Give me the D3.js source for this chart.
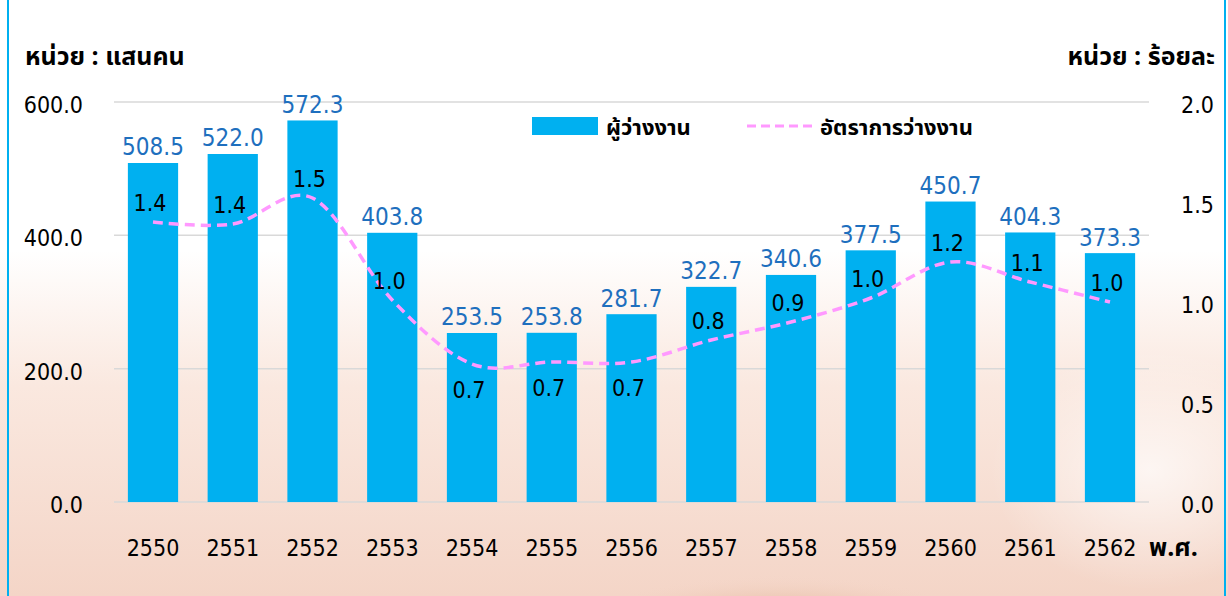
<!DOCTYPE html>
<html>
<head>
<meta charset="utf-8">
<script src="https://cdn.jsdelivr.net/npm/d3@7"></script>
<style>
  body { margin: 0; background: #fff; }
  svg { display: block; }
  .num { font-family: "DejaVu Sans Condensed", "DejaVu Sans", sans-serif; font-stretch: condensed; }
  .thai { font-family: Tahoma, "Noto Sans Thai", "Noto Sans", sans-serif; font-weight: bold; }
</style>
</head>
<body>
<script>
(function(){

    //chart data
    var years = ["2550", "2551", "2552", "2553", "2554", "2555", "2556",
                 "2557", "2558", "2559", "2560", "2561", "2562"];
    var unemployed = [508.5, 522.0, 572.3, 403.8, 253.5, 253.8, 281.7,
                      322.7, 340.6, 377.5, 450.7, 404.3, 373.3]; //แสนคน
    var rate = [1.40, 1.39, 1.52, 1.01, 0.69, 0.70, 0.70,
                0.81, 0.90, 1.02, 1.20, 1.10, 1.00]; //ร้อยละ
    var rateLabels = ["1.4", "1.4", "1.5", "1.0", "0.7", "0.7", "0.7",
                      "0.8", "0.9", "1.0", "1.2", "1.1", "1.0"];
    //label side for the rate labels (Excel placed some below the line)
    var rateLabelSide = ["up", "up", "up", "up", "down", "down", "down",
                         "up", "up", "up", "up", "up", "up"];
    var leftTicks = [0, 200, 400, 600];
    var rightTicks = [0, 0.5, 1.0, 1.5, 2.0];

    var width = 1228, height = 596;

    var svg = d3.select("body").append("svg")
        .attr("width", width)
        .attr("height", height);

    //background: white fading into a soft peach
    var defs = svg.append("defs");
    var bg = defs.append("linearGradient")
        .attr("id", "bg").attr("x1", 0).attr("y1", 0).attr("x2", 0).attr("y2", 1);
    bg.append("stop").attr("offset", "0%").attr("stop-color", "#ffffff");
    bg.append("stop").attr("offset", "42%").attr("stop-color", "#ffffff");
    bg.append("stop").attr("offset", "65%").attr("stop-color", "#fae8df");
    bg.append("stop").attr("offset", "100%").attr("stop-color", "#f4d5c7");

    var glow = defs.append("radialGradient").attr("id", "glow");
    glow.append("stop").attr("offset", "0%").attr("stop-color", "#d39a70").attr("stop-opacity", 0.85);
    glow.append("stop").attr("offset", "100%").attr("stop-color", "#f4d6c9").attr("stop-opacity", 0);

    var lite = defs.append("radialGradient").attr("id", "lite");
    lite.append("stop").attr("offset", "0%").attr("stop-color", "#ffffff").attr("stop-opacity", 0.7);
    lite.append("stop").attr("offset", "100%").attr("stop-color", "#ffffff").attr("stop-opacity", 0);

    svg.append("rect").attr("width", width).attr("height", height).attr("fill", "url(#bg)");
    svg.append("ellipse").attr("cx", 780).attr("cy", 625).attr("rx", 200).attr("ry", 50)
        .attr("fill", "url(#glow)");
    svg.append("ellipse").attr("cx", 1150).attr("cy", 470).attr("rx", 160).attr("ry", 120)
        .attr("fill", "url(#lite)");

    //frame side lines
    svg.append("line").attr("x1", 8).attr("x2", 8).attr("y1", 0).attr("y2", height)
        .attr("stroke", "#00b0f0").attr("stroke-width", 2);
    svg.append("line").attr("x1", 1225).attr("x2", 1225).attr("y1", 0).attr("y2", height)
        .attr("stroke", "#00b0f0").attr("stroke-width", 2);

    //scales
    var x = d3.scaleBand()
        .domain(years)
        .range([114, 1149])
        .paddingInner(0.37)
        .paddingOuter(0.174);

    var yLeft = d3.scaleLinear().domain([0, 600]).range([502, 102]);
    var yRight = d3.scaleLinear().domain([0, 2]).range([502, 102]);

    //gridlines
    svg.append("g").selectAll("line")
        .data(leftTicks)
        .enter().append("line")
        .attr("x1", 114).attr("x2", 1149)
        .attr("y1", function(d){ return yLeft(d); })
        .attr("y2", function(d){ return yLeft(d); })
        .attr("stroke", "#d9d9d9")
        .attr("stroke-width", 1.5);

    //left axis
    var leftAxis = svg.append("g")
        .attr("transform", "translate(83,0)")
        .call(d3.axisLeft(yLeft).tickValues(leftTicks).tickFormat(d3.format(".1f")).tickSize(0).tickPadding(0));
    leftAxis.select(".domain").remove();
    leftAxis.selectAll("text").attr("class", "num").attr("font-size", 23).attr("fill", "#000")
        .attr("dy", "0.45em");

    //right axis
    var rightAxis = svg.append("g")
        .attr("transform", "translate(1214,0)")
        .call(d3.axisLeft(yRight).tickValues(rightTicks).tickFormat(d3.format(".1f")).tickSize(0).tickPadding(0));
    rightAxis.select(".domain").remove();
    rightAxis.selectAll("text").attr("class", "num").attr("font-size", 23).attr("fill", "#000")
        .attr("dy", "0.45em");

    //year axis
    var bottomAxis = svg.append("g")
        .attr("transform", "translate(0,502)")
        .call(d3.axisBottom(x).tickSize(0).tickPadding(0));
    bottomAxis.select(".domain").remove();
    bottomAxis.selectAll("text").attr("class", "num").attr("font-size", 23).attr("fill", "#000")
        .attr("y", 46).attr("dy", "0.35em");

    //bars
    svg.append("g").selectAll("rect")
        .data(unemployed)
        .enter().append("rect")
        .attr("x", function(d, i){ return x(years[i]); })
        .attr("width", x.bandwidth())
        .attr("y", function(d){ return yLeft(d); })
        .attr("height", function(d){ return yLeft(0) - yLeft(d); })
        .attr("fill", "#00b0f0");

    //bar value labels
    svg.append("g").selectAll("text")
        .data(unemployed)
        .enter().append("text")
        .attr("class", "num")
        .attr("x", function(d, i){ return x(years[i]) + x.bandwidth() / 2; })
        .attr("y", function(d){ return yLeft(d) - 16; })
        .attr("dy", "0.35em")
        .attr("text-anchor", "middle")
        .attr("font-size", 24)
        .attr("fill", "#1e6fbe")
        .text(function(d){ return d3.format(".1f")(d); });

    //rate line
    var line = d3.line()
        .x(function(d, i){ return x(years[i]) + x.bandwidth() / 2; })
        .y(function(d){ return yRight(d); })
        .curve(d3.curveCatmullRom.alpha(0));

    svg.append("path")
        .datum(rate)
        .attr("d", line)
        .attr("fill", "none")
        .attr("stroke", "#ff99ff")
        .attr("stroke-width", 3.5)
        .attr("stroke-dasharray", "10,6");

    //rate labels
    svg.append("g").selectAll("text")
        .data(rate)
        .enter().append("text")
        .attr("class", "num")
        .attr("x", function(d, i){ return x(years[i]) + x.bandwidth() / 2 - 3; })
        .attr("y", function(d, i){
            return yRight(d) + (rateLabelSide[i] == "up" ? -19 : 26);
        })
        .attr("dy", "0.35em")
        .attr("text-anchor", "middle")
        .attr("font-size", 23)
        .attr("fill", "#000")
        .text(function(d, i){ return rateLabels[i]; });

    //unit titles
    svg.append("text").attr("class", "thai")
        .attr("x", 25).attr("y", 56).attr("dy", "0.35em")
        .attr("font-size", 25)
        .text("หน่วย : แสนคน");
    svg.append("text").attr("class", "thai")
        .attr("x", 1215).attr("y", 56).attr("dy", "0.35em")
        .attr("text-anchor", "end")
        .attr("font-size", 25)
        .text("หน่วย : ร้อยละ");
    svg.append("text").attr("class", "thai")
        .attr("x", 1149).attr("y", 547).attr("dy", "0.35em")
        .attr("font-size", 25)
        .text("พ.ศ.");

    //legend
    var legend = svg.append("g");
    legend.append("rect")
        .attr("x", 532).attr("y", 117).attr("width", 66).attr("height", 18)
        .attr("fill", "#00b0f0");
    legend.append("text").attr("class", "thai")
        .attr("x", 606).attr("y", 127).attr("dy", "0.35em")
        .attr("font-size", 22)
        .text("ผู้ว่างงาน");
    legend.append("line")
        .attr("x1", 747).attr("x2", 812).attr("y1", 126).attr("y2", 126)
        .attr("stroke", "#ff99ff")
        .attr("stroke-width", 3)
        .attr("stroke-dasharray", "9,5");
    legend.append("text").attr("class", "thai")
        .attr("x", 820).attr("y", 127).attr("dy", "0.35em")
        .attr("font-size", 22)
        .text("อัตราการว่างงาน");

})();
</script>
</body>
</html>
